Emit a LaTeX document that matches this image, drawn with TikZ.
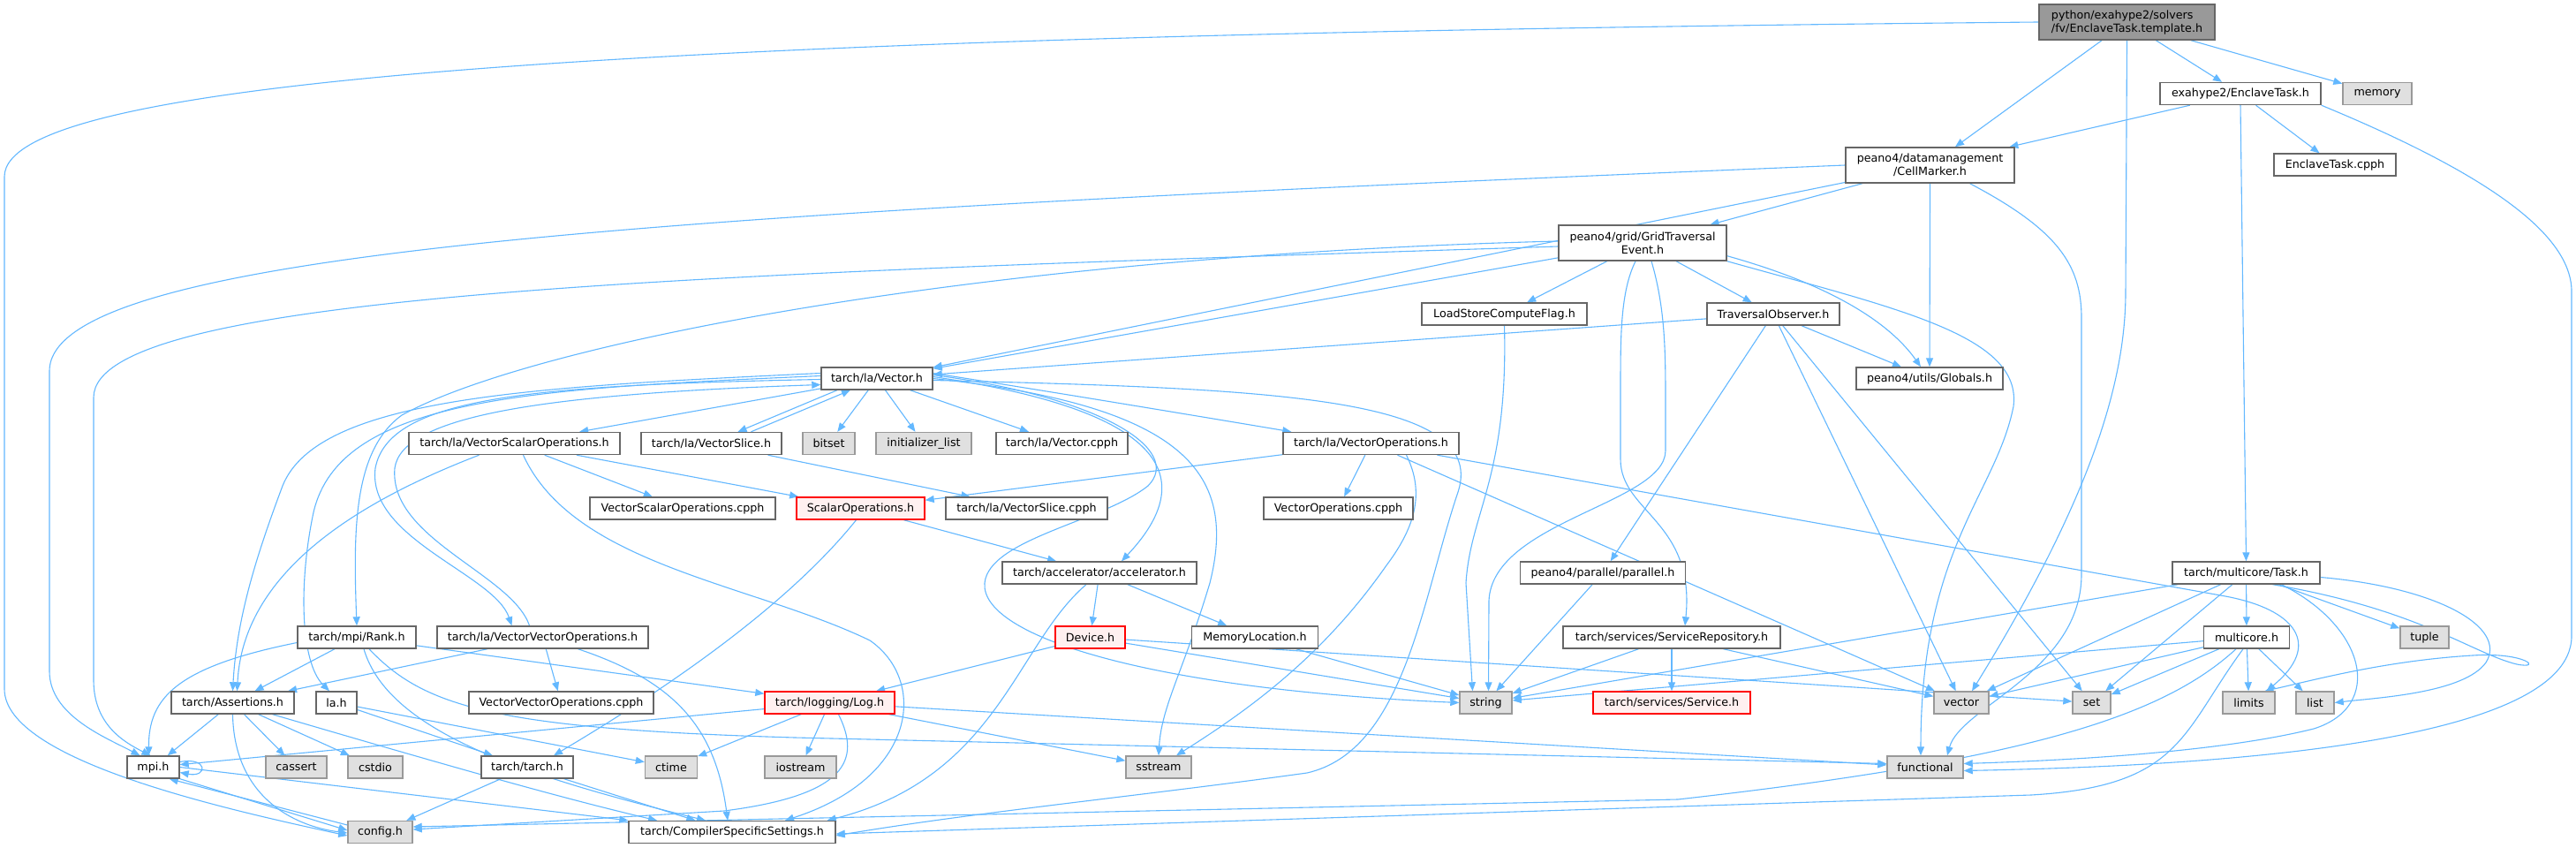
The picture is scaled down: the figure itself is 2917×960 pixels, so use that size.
\documentclass[tikz,border=0pt]{standalone}
\usepackage{fontspec}
\setmainfont{DejaVu Sans}
\usetikzlibrary{arrows.meta,backgrounds}
\definecolor{incblue}{HTML}{63B8FF}

\begin{document}
\begin{tikzpicture}[x=1pt,y=-1pt,
  filebox/.style={draw=black!60,fill=white,line width=1.4pt,minimum height=25,
    inner sep=0pt,font=\fontsize{12.7}{15}\selectfont,align=center},
  libbox/.style={filebox,draw=black!40,fill=black!12},
  cutbox/.style={filebox,draw=red,fill=red!6},
  topbox/.style={filebox,fill=black!40,minimum height=40,align=left},
  inc/.style={draw=incblue,line width=1.1pt,-{Triangle[length=10pt,width=8pt]}}]
  \useasboundingbox (0,0) rectangle (2917,960);

  % top of the graph
  \node[topbox,minimum width=199] (root) at (2408.5,25) {python/exahype2/solvers\\/fv/EnclaveTask.template.h};
  \node[filebox,minimum width=182] (etask) at (2537,106) {exahype2/EnclaveTask.h};
  \node[libbox,minimum width=78] (memory) at (2692,106) {memory};
  \node[filebox,minimum width=191,minimum height=40] (cellmarker) at (2185.5,187) {peano4/datamanagement\\/CellMarker.h};
  \node[filebox,minimum width=138] (etcpph) at (2644,186.5) {EnclaveTask.cpph};
  \node[filebox,minimum width=190,minimum height=40] (gridev) at (1860,275) {peano4/grid/GridTraversal\\Event.h};
  \node[filebox,minimum width=187] (lscflag) at (1703.5,355.5) {LoadStoreComputeFlag.h};
  \node[filebox,minimum width=150] (travobs) at (2008,355.5) {TraversalObserver.h};
  \node[filebox,minimum width=126] (vec) at (993,428.5) {tarch/la/Vector.h};
  \node[filebox,minimum width=166] (globals) at (2185,428.5) {peano4/utils/Globals.h};

  \node[filebox,minimum width=239] (vso) at (582.5,502) {tarch/la/VectorScalarOperations.h};
  \node[filebox,minimum width=159] (vslice) at (805.5,502) {tarch/la/VectorSlice.h};
  \node[libbox,minimum width=59] (bitset) at (938.5,502) {bitset};
  \node[libbox,minimum width=108] (initlist) at (1046,502) {initializer\_list};
  \node[filebox,minimum width=149] (veccpph) at (1202.5,502) {tarch/la/Vector.cpph};
  \node[filebox,minimum width=199] (vecops) at (1552.5,502) {tarch/la/VectorOperations.h};

  \node[filebox,minimum width=210] (vsocpph) at (773,575.5) {VectorScalarOperations.cpph};
  \node[cutbox,minimum width=145] (scalops) at (974.5,575.5) {ScalarOperations.h};
  \node[filebox,minimum width=183] (vslcpph) at (1162.5,575.5) {tarch/la/VectorSlice.cpph};
  \node[filebox,minimum width=169] (vopcpph) at (1515.5,575.5) {VectorOperations.cpph};

  \node[filebox,minimum width=220] (accel) at (1245,648.5) {tarch/accelerator/accelerator.h};
  \node[filebox,minimum width=187] (parallel) at (1815,648.5) {peano4/parallel/parallel.h};
  \node[filebox,minimum width=167] (task) at (2543.5,648.5) {tarch/multicore/Task.h};

  \node[filebox,minimum width=134] (rank) at (404,721.5) {tarch/mpi/Rank.h};
  \node[filebox,minimum width=239] (vvo) at (614.5,721.5) {tarch/la/VectorVectorOperations.h};
  \node[cutbox,minimum width=79] (device) at (1234.5,721.5) {Device.h};
  \node[filebox,minimum width=143] (memloc) at (1421,721.5) {MemoryLocation.h};
  \node[filebox,minimum width=246] (servrepo) at (1893,721.5) {tarch/services/ServiceRepository.h};
  \node[filebox,minimum width=97] (multicore) at (2544,721.5) {multicore.h};
  \node[libbox,minimum width=55] (tuple) at (2745.5,721.5) {tuple};

  \node[filebox,minimum width=139] (assert) at (263.5,795.5) {tarch/Assertions.h};
  \node[filebox,minimum width=46] (lah) at (381,795.5) {la.h};
  \node[filebox,minimum width=209] (vvocpph) at (635.5,795.5) {VectorVectorOperations.cpph};
  \node[cutbox,minimum width=147] (log) at (939.5,795.5) {tarch/logging/Log.h};
  \node[libbox,minimum width=59] (string) at (1682.5,795.5) {string};
  \node[cutbox,minimum width=178] (service) at (1893,795.5) {tarch/services/Service.h};
  \node[libbox,minimum width=62] (vector) at (2221,795.5) {vector};
  \node[libbox,minimum width=43] (set) at (2368.5,795.5) {set};
  \node[libbox,minimum width=59] (limits) at (2546.5,795.5) {limits};
  \node[libbox,minimum width=43] (list) at (2621.5,795.5) {list};

  \node[filebox,minimum width=59] (mpi) at (173.5,868.5) {mpi.h};
  \node[libbox,minimum width=69] (cassert) at (335.5,868.5) {cassert};
  \node[libbox,minimum width=62] (cstdio) at (425,868.5) {cstdio};
  \node[filebox,minimum width=104] (tarchh) at (597,868.5) {tarch/tarch.h};
  \node[libbox,minimum width=59] (ctime) at (760,868.5) {ctime};
  \node[libbox,minimum width=81] (iostream) at (906.5,868.5) {iostream};
  \node[libbox,minimum width=74] (sstream) at (1312,868.5) {sstream};
  \node[libbox,minimum width=86] (functional) at (2180,868.5) {functional};

  \node[libbox,minimum width=73] (config) at (430.5,942) {config.h};
  \node[filebox,minimum width=234] (compiler) at (829,942) {tarch/CompilerSpecificSettings.h};

  \begin{scope}[on background layer]
  \fill[white] (0,0) rectangle (2917,960);
  % straight includes
  \foreach \a/\b in {root/cellmarker,root/etask,root/memory,etask/cellmarker,etask/etcpph,
      cellmarker/gridev,cellmarker/vec,gridev/lscflag,gridev/travobs,gridev/vec,
      travobs/vec,travobs/globals,travobs/parallel,travobs/vector,travobs/set,
      vec/vso,vec/bitset,vec/initlist,vec/veccpph,vso/vsocpph,vso/scalops,vslice/vslcpph,
      vecops/scalops,vecops/vopcpph,vecops/vector,scalops/accel,accel/device,accel/memloc,
      device/log,device/string,device/set,memloc/string,parallel/string,
      servrepo/string,servrepo/service,servrepo/vector,rank/assert,rank/log,
      vvo/assert,vvo/vvocpph,assert/mpi,assert/cassert,assert/cstdio,lah/tarchh,lah/ctime,
      log/mpi,log/ctime,log/iostream,log/sstream,log/functional,tarchh/config,tarchh/compiler,
      task/tuple,task/multicore,task/vector,task/set,task/string,
      multicore/vector,multicore/set,multicore/limits,multicore/list,multicore/string}
    \draw[inc] (\a) -- (\b);
  \draw[inc] (etask.south) -- (task.north);
  \draw[inc] (cellmarker.south) -- (globals.north);
  \draw[inc] ([xshift=-45]vec.south) -- ([xshift=30]vslice.north);
  \draw[inc] ([xshift=45]vslice.north) -- ([xshift=-30]vec.south);
  \draw[inc] (mpi.east) -- (compiler.north west);
  \draw[inc] (mpi.south east) -- ([yshift=2]config.west);
  \draw[inc] ([yshift=8]config.west) -- ([xshift=-12]mpi.south east);
  \draw[inc] ([yshift=6]mpi.east) .. controls +(32,-6) and +(32,6) .. ([yshift=-6]mpi.east);

  % long curved includes
  \draw[inc] (root.west) .. controls (700,40) and (5,90) .. (5,200) -- (5,780)
    .. controls (5,860) and (250,915) .. ([yshift=-4]config.west);
  \draw[inc] (root.south) -- (2407,330) .. controls (2407,430) and (2370,560) .. ([xshift=12]vector.north);
  \draw[inc] (cellmarker.west) .. controls (800,240) and (56,280) .. (56,420) -- (56,760)
    .. controls (56,810) and (120,835) .. ([xshift=-15]mpi.north);
  \draw[inc] ([xshift=45]cellmarker.south) .. controls (2330,260) and (2357,300) .. (2357,360) -- (2357,650)
    .. controls (2357,760) and (2220,800) .. ([xshift=25]functional.north);
  \draw[inc] ([yshift=-4]gridev.west) .. controls (800,310) and (106,330) .. (106,450) -- (106,770)
    .. controls (106,820) and (140,840) .. ([xshift=-3]mpi.north);
  \draw[inc] ([yshift=2]gridev.west) .. controls (1100,290) and (600,390) .. (455,470)
    .. controls (400,510) and (400,600) .. (rank.north);
  \draw[inc] (gridev.south east) .. controls (2150,350) and (2290,380) .. (2280,460)
    .. controls (2260,560) and (2175,620) .. ([xshift=-5]functional.north);
  \draw[inc] ([yshift=6]gridev.south east) .. controls (2100,330) and (2150,380) .. ([xshift=-10]globals.north);
  \draw[inc] ([xshift=-8]gridev.south) .. controls (1835,330) and (1835,380) .. (1835,440) -- (1835,520)
    .. controls (1835,580) and (1920,590) .. ([xshift=15]servrepo.north);
  \draw[inc] ([xshift=10]gridev.south) .. controls (1886,350) and (1886,400) .. (1886,460) -- (1886,510)
    .. controls (1886,570) and (1690,590) .. (1686,680) -- ([xshift=3]string.north);
  \draw[inc] (lscflag.south) .. controls (1708,540) and (1665,580) .. (1660,660) -- ([xshift=-15]string.north);
  \draw[inc] (etask.south east) .. controls (2800,190) and (2912,260) .. (2912,330) -- (2912,720)
    .. controls (2912,850) and (2450,868) .. ([yshift=-4]functional.east);
  \draw[inc] ([xshift=40]task.south) .. controls (2680,710) and (2700,800) .. (2620,825)
    .. controls (2500,855) and (2300,862) .. ([yshift=4]functional.east);
  \draw[inc] ([yshift=-5]task.east) .. controls (2760,665) and (2840,710) .. (2815,750)
    .. controls (2790,785) and (2690,790) .. (list.east);
  \draw[inc] ([xshift=30]task.south) .. controls (2740,690) and (2800,740) .. (2850,752)
    .. controls (2880,758) and (2860,738) .. (2800,742)
    .. controls (2700,748) and (2620,770) .. ([xshift=18]limits.north);
  \draw[inc] ([xshift=75]vecops.south) -- (2520,675) .. controls (2600,690) and (2630,730) .. ([xshift=20]limits.north);
  \draw[inc] ([xshift=40]vecops.south) .. controls (1615,560) and (1600,600) .. (1570,640)
    .. controls (1500,740) and (1420,800) .. ([xshift=20]sstream.north);

  % from tarch/la/Vector.h
  \draw[inc] ([yshift=6]vec.east) .. controls (1200,445) and (1350,470) .. ([xshift=10]vecops.north west);
  \draw[inc] ([yshift=4]vec.east) .. controls (1250,450) and (1340,510) .. (1300,550)
    .. controls (1250,590) and (1120,610) .. (1115,660) .. controls (1110,720) and (1300,780) .. (string.west);
  \draw[inc] ([yshift=2]vec.east) .. controls (1320,465) and (1360,540) .. ([xshift=25]accel.north);
  \draw[inc] (vec.east) .. controls (1350,460) and (1400,540) .. (1370,660)
    .. controls (1340,760) and (1315,800) .. (sstream.north);
  \draw[inc] ([yshift=-2]vec.east) .. controls (1450,440) and (1690,450) .. (1650,560)
    .. controls (1610,680) and (1590,850) .. (1480,875) .. controls (1300,900) and (1100,920) .. ([yshift=-4]compiler.east);
  \draw[inc] ([yshift=6]vec.west) .. controls (600,438) and (360,450) .. (320,550)
    .. controls (290,630) and (268,700) .. (assert.north);
  \draw[inc] ([yshift=3]vec.west) .. controls (600,440) and (385,450) .. (355,580)
    .. controls (338,660) and (340,750) .. ([xshift=-8]lah.north);
  \draw[inc] ([yshift=-1]vec.west) .. controls (600,436) and (440,450) .. (425,530)
    .. controls (415,610) and (560,650) .. ([xshift=-35]vvo.north);
  \draw[inc] ([xshift=-15]vvo.north) .. controls (580,650) and (440,610) .. (447,530)
    .. controls (455,470) and (620,446) .. ([yshift=-7]vec.west);

  % lower part
  \draw[inc] ([xshift=-40]vso.south) .. controls (400,570) and (275,650) .. ([xshift=5]assert.north);
  \draw[inc] ([xshift=10]vso.south) .. controls (650,640) and (850,660) .. (985,725)
    .. controls (1050,770) and (1040,880) .. ([xshift=60]compiler.north);
  \draw[inc] ([xshift=-5]scalops.south) .. controls (880,700) and (720,800) .. ([xshift=30]tarchh.north);
  \draw[inc] ([xshift=-15]accel.south) .. controls (1150,730) and (1130,880) .. ([xshift=-10]compiler.north east);
  \draw[inc] ([yshift=-6]rank.west) .. controls (200,755) and (168,790) .. ([xshift=-5]mpi.north);
  \draw[inc] ([xshift=8]rank.south) .. controls (440,830) and (600,880) .. ([xshift=-30]compiler.north);
  \draw[inc] ([xshift=14]rank.south) .. controls (480,800) and (560,825) .. (900,835) -- ([yshift=4]functional.west);
  \draw[inc] ([xshift=40]vvo.south) .. controls (760,770) and (810,820) .. ([xshift=-5]compiler.north);
  \draw[inc] (assert.south) .. controls (265,900) and (330,935) .. ([yshift=-1]config.west);
  \draw[inc] ([xshift=45]assert.south) .. controls (450,850) and (620,900) .. ([xshift=-85]compiler.north);
  \draw[inc] ([xshift=10]log.south) .. controls (975,860) and (960,900) .. (820,918) -- ([yshift=3]config.east);
  \draw[inc] ([xshift=-12]multicore.south) .. controls (2450,810) and (2300,860) .. (1900,905) -- ([yshift=6]config.east);
  \draw[inc] ([xshift=-4]multicore.south) .. controls (2470,830) and (2470,890) .. (2300,900) -- ([yshift=-2]compiler.east);
  \end{scope}
\end{tikzpicture}
\end{document}
